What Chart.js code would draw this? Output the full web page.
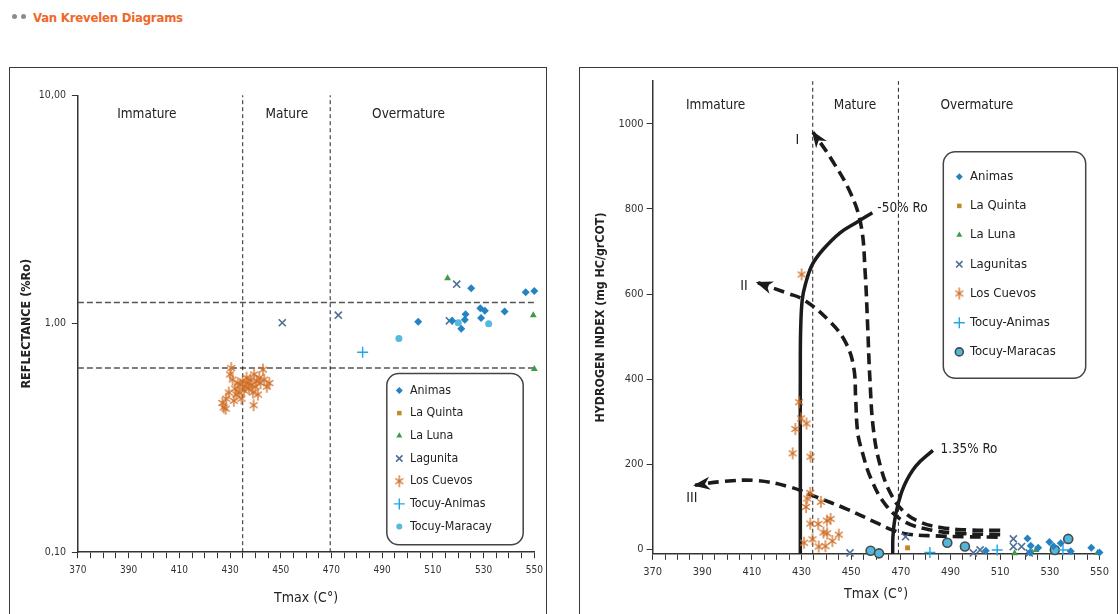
<!DOCTYPE html>
<html>
<head>
<meta charset="utf-8">
<title>Van Krevelen Diagrams</title>
<script src="https://cdn.jsdelivr.net/npm/chart.js@4.4.1/dist/chart.umd.min.js"></script>
<style>
  body { margin: 0; width: 1120px; height: 614px; overflow: hidden; position: relative; background: #fff;
         font-family: 'DejaVu Sans Condensed', 'Liberation Sans', sans-serif; }
  .dot { position: absolute; top: 14px; width: 5px; height: 5px; border-radius: 50%; background: #8c8c8c; }
  .heading { position: absolute; left: 33px; top: 8px; line-height: 20px; font-size: 13px; font-weight: bold;
             letter-spacing: -0.2px; color: #f0672a; }
  .panel { position: absolute; top: 67px; height: 560px; border: 1px solid #3a3a3a; }
  #left-panel { left: 9px; width: 536px; }
  #right-panel { left: 579px; width: 537px; }
  canvas { display: block; }
</style>
</head>
<body>
<div class="dot" style="left:12px"></div>
<div class="dot" style="left:21px"></div>
<div class="heading">Van Krevelen Diagrams</div>
<div class="panel" id="left-panel"><canvas id="roChart" width="536" height="560"></canvas></div>
<div class="panel" id="right-panel"><canvas id="hiChart" width="537" height="560"></canvas></div>
<script>
const FONT = "'DejaVu Sans Condensed', 'Liberation Sans', sans-serif";
Chart.defaults.font.family = FONT;
Chart.defaults.color = '#222';

// --- shared
const zoneNames = ['Immature', 'Mature', 'Overmature'];
const tmaxTicks = Array.from({ length: 37 }, (_, i) => 370 + i * 5);

// --- left diagram: reflectance vs Tmax
const leftNames = ['Animas', 'La Quinta', 'La Luna', 'Lagunita', 'Los Cuevos', 'Tocuy-Animas', 'Tocuy-Maracay'];
const leftZoneLimits = [435, 469.5];
const roLimits = [0.64, 1.24];
const roTicks = [0.1, 1, 10];
const leftAnimas = [[504.2, 1.02], [517.6, 1.03], [521.2, 0.95], [522.6, 1.04], [522.9, 1.10], [525.1, 1.43],
  [528.7, 1.17], [529.0, 1.06], [530.5, 1.14], [538.3, 1.13], [546.6, 1.375], [550, 1.39]];
const leftLaQuinta = [];
const leftLaLuna = [[515.8, 1.58], [549.6, 1.09], [550, 0.633]];
const leftLagunita = [[450.6, 1.01], [472.7, 1.09], [516.5, 1.03], [519.4, 1.49]];
const leftLosCuevos = [[427, 0.45], [427.5, 0.43], [428.3, 0.425], [428.5, 0.47], [429.5, 0.5], [430, 0.6],
  [430.5, 0.64], [431, 0.57], [431.5, 0.46], [432, 0.52], [432.5, 0.49], [433, 0.55], [433.5, 0.5],
  [434, 0.54], [434.5, 0.47], [435, 0.56], [435.5, 0.51], [436, 0.53], [436.5, 0.58], [437, 0.55],
  [437.5, 0.52], [438, 0.57], [438.5, 0.54], [439.3, 0.44], [439, 0.5], [439.5, 0.6], [440, 0.53],
  [440.5, 0.56], [441, 0.49], [441.5, 0.58], [442, 0.55], [443, 0.63], [443.5, 0.57], [444.5, 0.53], [445.5, 0.55]];
const leftTocuyAnimas = [[482.3, 0.75]];
const leftTocuyMaracay = [[496.6, 0.862], [520, 1.01], [532, 1.0]];

// --- right diagram: hydrogen index vs Tmax
const rightNames = ['Animas', 'La Quinta', 'La Luna', 'Lagunitas', 'Los Cuevos', 'Tocuy-Animas', 'Tocuy-Maracas'];
const rightZoneLimits = [434.5, 469];
const hiTicks = [0, 200, 400, 600, 800, 1000];
const rightAnimas = [[504.2, -3], [521, 26], [522.3, 9], [522, -7], [525.3, 4], [529.8, 18], [531.5, 8],
  [534.4, 15], [538.4, -4], [546.7, 4], [550, -7]];
const rightLaQuinta = [[472.7, 4]];
const rightLaLuna = [[515.8, -9], [524.4, -1], [549.2, -8]];
const rightLagunitas = [[449.5, -8], [471.9, 30], [499.2, -8], [501.9, -1], [515.3, 25], [515.3, 7], [518.6, 7], [521.7, -8]];
const rightLosCuevos = [[430, 646], [429, 346], [429.8, 308], [432, 296], [427.5, 283], [426.4, 226], [433.6, 218],
  [433.5, 133], [432.3, 120], [431.8, 100], [437.8, 112], [433.5, 61], [436.7, 60], [440.2, 68], [441.7, 72],
  [438.8, 40], [440.3, 38], [445, 35], [442.4, 20], [431, 16], [434.4, 24], [436.9, 7], [439.6, 8]];
const rightTocuyAnimas = [[481.7, -7], [508.8, -1], [535.3, -1]];
const rightTocuyMaracas = [[457.8, -3], [461.2, -9], [488.7, 16], [495.8, 7], [532, -1], [537.4, 25]];

// iso-reflectance lines and evolution paths (points ordered along the path, arrow at the end)
const ro050Curve = [[429.5, -10], [429.5, 200], [429.5, 450], [429.7, 530], [430.3, 588], [431.5, 622],
  [434.2, 668], [438.4, 703], [445.5, 744], [452.6, 770], [458.5, 791]];
const ro135Curve = [[466.7, -10], [466.8, 30], [467.4, 65], [468.8, 105], [471.3, 150], [476, 196], [482.9, 233]];
const pathI = [[510, 45], [497, 46], [486, 52], [477.5, 65], [471, 90], [466, 130], [461.8, 195], [459, 279],
  [457.5, 403], [456.6, 528], [455.6, 652], [454, 760], [449.9, 835], [441.9, 918], [434.6, 980]];
const pathII = [[510, 35], [494, 38], [483, 45], [472, 64], [464, 104], [458, 166], [454.3, 232], [452.6, 275],
  [451.8, 353], [451, 428], [447.8, 486], [441.3, 536], [431.1, 586], [424.3, 602], [412.3, 627]];
const pathIII = [[509, 29], [496, 30], [484, 32], [473, 36], [467, 45], [461.6, 59], [448.2, 95], [436.1, 123],
  [425.3, 147], [411.9, 162], [398.5, 160], [387.1, 151]];

function makeAsterisk(color, size) {
  const c = document.createElement('canvas');
  c.width = c.height = size;
  const g = c.getContext('2d');
  const m = size / 2, r = size / 2 - 1;
  g.strokeStyle = color;
  g.lineWidth = 1.3;
  [[90, r], [35, r * 0.8], [145, r * 0.8]].forEach(([deg, len]) => {
    const a = deg * Math.PI / 180;
    g.beginPath();
    g.moveTo(m - Math.cos(a) * len, m - Math.sin(a) * len);
    g.lineTo(m + Math.cos(a) * len, m + Math.sin(a) * len);
    g.stroke();
  });
  return c;
}

const asterisk = makeAsterisk('#cf6e26', 14);

const markerStyles = {
  'Animas': { pointStyle: 'rectRot', pointRadius: 4, legendRadius: 3.5, backgroundColor: '#2483c2', borderColor: '#2483c2', borderWidth: 0 },
  'La Quinta': { pointStyle: 'rect', pointRadius: 3.5, legendRadius: 3.2, backgroundColor: '#c4882c', borderColor: '#c4882c', borderWidth: 0 },
  'La Luna': { pointStyle: 'triangle', pointRadius: 4, legendRadius: 3.5, backgroundColor: '#3f9b45', borderColor: '#3f9b45', borderWidth: 0 },
  'Lagunita': { pointStyle: 'crossRot', pointRadius: 5, legendRadius: 4.5, backgroundColor: '#4e6f96', borderColor: '#4e6f96', borderWidth: 1.6 },
  'Los Cuevos': { pointStyle: asterisk, pointRadius: 6, legendRadius: 6, backgroundColor: '#cf6e26', borderColor: '#cf6e26', borderWidth: 0 },
  'Tocuy-Animas': { pointStyle: 'cross', pointRadius: 5.5, legendRadius: 5.5, backgroundColor: '#22a6e6', borderColor: '#22a6e6', borderWidth: 1.4 },
  'Tocuy-Maracay': { pointStyle: 'circle', pointRadius: 3.5, legendRadius: 3, backgroundColor: '#56b9de', borderColor: '#56b9de', borderWidth: 0 },
  'Tocuy-Maracas': { pointStyle: 'circle', pointRadius: 4.5, legendRadius: 4, backgroundColor: '#4fb8dc', borderColor: '#4a4a4a', borderWidth: 1.6 }
};
markerStyles['Lagunitas'] = markerStyles['Lagunita'];

const toXY = pts => pts.map(([x, y]) => ({ x, y }));

function series(label, pts) {
  return Object.assign({ type: 'scatter', label, data: toXY(pts), clip: false, showInLegend: true }, markerStyles[label]);
}

function guide(pts, color, width, dash, tension) {
  return {
    type: 'line', data: toXY(pts), borderColor: color, borderWidth: width, borderDash: dash,
    pointRadius: 0, tension: tension || 0, fill: false, clip: false
  };
}

// legend drawn as a rounded box inside the plot
const boxLegend = {
  id: 'boxLegend',
  afterDraw(chart, args, opts) {
    const { ctx } = chart;
    ctx.save();
    ctx.beginPath();
    ctx.roundRect(opts.x, opts.y, opts.w, opts.h, 12);
    ctx.fillStyle = '#fff';
    ctx.fill();
    ctx.lineWidth = 1.5;
    ctx.strokeStyle = '#444';
    ctx.stroke();
    const items = chart.data.datasets.filter(d => d.showInLegend);
    items.forEach((d, i) => {
      const y = opts.top + i * opts.step;
      ctx.fillStyle = d.backgroundColor;
      ctx.strokeStyle = d.borderColor;
      ctx.lineWidth = d.borderWidth;
      Chart.helpers.drawPoint(ctx, { pointStyle: d.pointStyle, radius: d.legendRadius, rotation: 0, borderWidth: d.borderWidth }, opts.markerX, y);
      ctx.fillStyle = '#222';
      ctx.font = opts.fontSize + 'px ' + FONT;
      ctx.textBaseline = 'middle';
      ctx.textAlign = 'left';
      ctx.fillText(d.label, opts.textX, y);
    });
    ctx.restore();
  }
};

// zone names, curve labels and arrow heads
const chartNotes = {
  id: 'chartNotes',
  afterDatasetsDraw(chart, args, opts) {
    const { ctx, scales: { x, y } } = chart;
    ctx.save();
    ctx.fillStyle = '#222';
    ctx.textBaseline = 'middle';
    (opts.labels || []).forEach(l => {
      ctx.font = (l.size || 13.5) + 'px ' + FONT;
      ctx.textAlign = l.align || 'center';
      ctx.fillText(l.text, x.getPixelForValue(l.x), y.getPixelForValue(l.y));
    });
    chart.data.datasets.forEach((d, i) => {
      if (!d.arrow) return;
      const pts = chart.getDatasetMeta(i).data;
      const a = pts[pts.length - 2], b = pts[pts.length - 1];
      ctx.save();
      ctx.translate(b.x, b.y);
      ctx.rotate(Math.atan2(b.y - a.y, b.x - a.x));
      ctx.beginPath();
      ctx.moveTo(2, 0);
      ctx.lineTo(-15, -6.5);
      ctx.lineTo(-10, 0);
      ctx.lineTo(-15, 6.5);
      ctx.closePath();
      ctx.fillStyle = '#1b1b1b';
      ctx.fill();
      ctx.restore();
    });
    ctx.restore();
  }
};

function tmaxAxis(height, fontSize) {
  return {
    type: 'linear', min: 370, max: 550,
    afterBuildTicks: s => { s.ticks = tmaxTicks.map(value => ({ value })); },
    ticks: { autoSkip: false, maxRotation: 0, padding: 6, color: '#333', font: { size: fontSize },
      callback: v => ((v - 370) % 20 === 0 ? String(v) : '') },
    grid: { drawOnChartArea: false, tickLength: 6, color: '#333' },
    border: { color: '#333', width: 1.5 },
    title: { display: true, text: 'Tmax (C°)', font: { size: 14 }, color: '#222', padding: { top: 4, bottom: 4 } },
    afterFit: s => { s.height = height; s.paddingLeft = 0; s.paddingRight = 0; }
  };
}

const seriesLeft = [leftAnimas, leftLaQuinta, leftLaLuna, leftLagunita, leftLosCuevos, leftTocuyAnimas, leftTocuyMaracay];
const seriesRight = [rightAnimas, rightLaQuinta, rightLaLuna, rightLagunitas, rightLosCuevos, rightTocuyAnimas, rightTocuyMaracas];

new Chart(document.getElementById('roChart'), {
  type: 'scatter',
  data: {
    datasets: [
      ...leftNames.map((n, i) => series(n, seriesLeft[i])),
      ...leftZoneLimits.map(t => guide([[t, 0.1], [t, 10]], '#222', 1, [4, 3])),
      ...roLimits.map(r => guide([[370, r], [550, r]], '#555', 1.5, [6, 3]))
    ]
  },
  options: {
    responsive: false, animation: false, events: [],
    layout: { padding: { left: 0, top: 27.3, right: 11.7, bottom: 16.8 } },
    scales: {
      x: tmaxAxis(59, 10),
      y: {
        type: 'logarithmic', min: 0.1, max: 10,
        afterBuildTicks: s => { s.ticks = roTicks.map(value => ({ value })); },
        ticks: { callback: v => Number(v).toFixed(2).replace('.', ','), color: '#333', font: { size: 10.5 }, padding: 6 },
        grid: { drawOnChartArea: false, tickLength: 6, color: '#333' },
        border: { color: '#333', width: 1.5 },
        title: { display: true, text: 'REFLECTANCE (%Ro)', font: { size: 12.5, weight: 'bold' }, color: '#222', padding: { top: 9, bottom: 0 } },
        afterFit: s => { s.width = 67.9; s.paddingTop = 0; s.paddingBottom = 0; }
      }
    },
    plugins: {
      legend: { display: false },
      tooltip: { enabled: false },
      boxLegend: { x: 376.8, y: 305.4, w: 136.4, h: 171.4, top: 322.4, step: 22.7, markerX: 389.3, textX: 400, fontSize: 12.3 },
      chartNotes: {
        labels: zoneNames.map((text, i) => ({ text, x: [397.2, 452.4, 500.4][i], y: 8.27 }))
      }
    }
  },
  plugins: [boxLegend, chartNotes]
});

new Chart(document.getElementById('hiChart'), {
  type: 'scatter',
  data: {
    datasets: [
      ...rightNames.map((n, i) => series(n, seriesRight[i])),
      ...rightZoneLimits.map(t => guide([[t, -10], [t, 1100]], '#222', 1, [4, 3])),
      guide(ro050Curve, '#1b1b1b', 3.5, [], 0.4),
      guide(ro135Curve, '#1b1b1b', 3.5, [], 0.4),
      Object.assign(guide(pathI, '#1b1b1b', 3.6, [11, 6], 0.4), { arrow: true }),
      Object.assign(guide(pathII, '#1b1b1b', 3.6, [11, 6], 0.4), { arrow: true }),
      Object.assign(guide(pathIII, '#1b1b1b', 3.6, [11, 6], 0.4), { arrow: true })
    ]
  },
  options: {
    responsive: false, animation: false, events: [],
    layout: { padding: { left: 0, top: 13.2, right: 17.5, bottom: 21.2 } },
    scales: {
      x: tmaxAxis(53, 11),
      y: {
        type: 'linear', min: -10, max: 1100,
        afterBuildTicks: s => { s.ticks = hiTicks.map(value => ({ value })); },
        ticks: { callback: v => String(v), color: '#333', font: { size: 11 }, padding: 3 },
        grid: { drawOnChartArea: false, tickLength: 6, color: '#333' },
        border: { color: '#333', width: 1.5 },
        title: { display: true, text: 'HYDROGEN INDEX (mg HC/grCOT)', font: { size: 12.3, weight: 'bold' }, color: '#222', padding: { top: 13, bottom: 0 } },
        afterFit: s => { s.width = 72.6; s.paddingTop = 0; s.paddingBottom = 0; }
      }
    },
    plugins: {
      legend: { display: false },
      tooltip: { enabled: false },
      boxLegend: { x: 363.3, y: 83.7, w: 142.4, h: 226.6, top: 108.7, step: 29.2, markerX: 379.3, textX: 390, fontSize: 13 },
      chartNotes: {
        labels: [
          ...zoneNames.map((text, i) => ({ text, x: [395.4, 451.5, 500.6][i], y: 1042 })),
          { text: '-50% Ro', x: 460.5, y: 801, align: 'left', size: 13.5 },
          { text: '1.35% Ro', x: 486, y: 236, align: 'left', size: 13.3 },
          { text: 'I', x: 428.3, y: 962, size: 14 },
          { text: 'II', x: 406.8, y: 617, size: 14 },
          { text: 'III', x: 385.8, y: 121, size: 14 }
        ]
      }
    }
  },
  plugins: [boxLegend, chartNotes]
});
</script>
</body>
</html>
